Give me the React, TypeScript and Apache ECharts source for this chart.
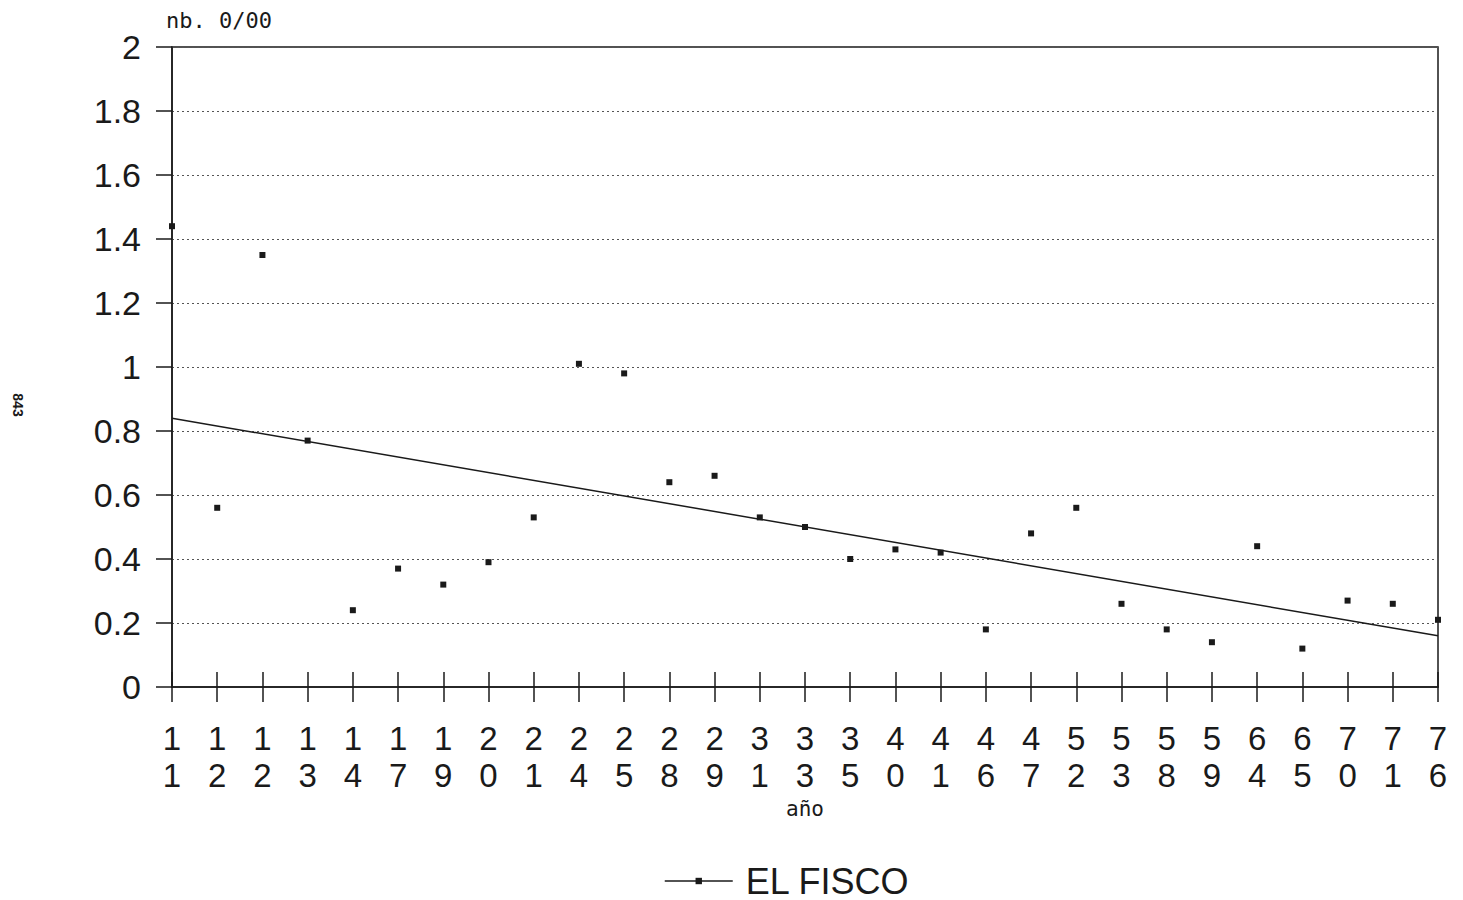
import React, { useEffect, useRef } from "react";
import * as echarts from "echarts";

const years = ["11", "12", "12", "13", "14", "17", "19", "20", "21", "24", "25", "28", "29", "31", "33", "35", "40", "41", "46", "47", "52", "53", "58", "59", "64", "65", "70", "71", "76"];
const fiscoValues = [1.44, 0.56, 1.35, 0.77, 0.24, 0.37, 0.32, 0.39, 0.53, 1.01, 0.98, 0.64, 0.66, 0.53, 0.5, 0.4, 0.43, 0.42, 0.18, 0.48, 0.56, 0.26, 0.18, 0.14, 0.44, 0.12, 0.27, 0.26, 0.21];
const trendStart = 0.84;
const trendEnd = 0.16;
const yTicks = [0, 0.2, 0.4, 0.6, 0.8, 1, 1.2, 1.4, 1.6, 1.8, 2];

const FONT = "Liberation Sans";
const INK = "#1a1a1a";

export default function App() {
  const ref = useRef<HTMLDivElement>(null);
  useEffect(() => {
    if (!ref.current) return;
    const chart = echarts.init(ref.current, null, { renderer: "svg" });
    chart.setOption({
      animation: false,
      backgroundColor: "#ffffff",
      grid: {
        left: 172,
        right: 25,
        top: 47,
        bottom: 213,
        show: true,
        borderColor: INK,
        borderWidth: 1.5,
      },
      legend: {
        data: ["EL FISCO"],
        left: 664,
        top: 863,
        padding: 0,
        itemWidth: 68,
        itemHeight: 8,
        itemGap: 10,
        lineStyle: { width: 1.5, color: INK, opacity: 1 },
        textStyle: { fontFamily: FONT, fontSize: 36, lineHeight: 36, color: INK, padding: [0, 0, 0, 8] },
      },
      xAxis: [
        {
          type: "category",
          data: years,
          boundaryGap: false,
          axisLine: { show: true, lineStyle: { color: INK, width: 1.5 } },
          axisTick: { show: true, length: 15, lineStyle: { color: INK, width: 1.5 } },
          axisLabel: {
            margin: 33,
            fontFamily: FONT,
            fontSize: 33,
            lineHeight: 37,
            color: INK,
            interval: 0,
            formatter: (_v: string, i: number) => years[i].split("").join("\n"),
          },
          splitLine: { show: false },
          name: "año",
          nameLocation: "middle",
          nameGap: 110,
          nameTextStyle: { fontFamily: "DejaVu Sans Mono", fontSize: 21, color: INK },
        },
        {
          type: "category",
          data: years,
          boundaryGap: false,
          position: "bottom",
          axisLine: { show: false },
          axisTick: { show: true, inside: true, length: 15, lineStyle: { color: INK, width: 1.5 } },
          axisLabel: { show: false },
          splitLine: { show: false },
        },
      ],
      yAxis: {
        type: "value",
        min: 0,
        max: 2,
        interval: 0.2,
        axisLine: { show: true, lineStyle: { color: INK, width: 1.5 } },
        axisTick: { show: true, length: 16, lineStyle: { color: INK, width: 1.5 } },
        axisLabel: {
          margin: 31,
          fontFamily: FONT,
          fontSize: 34,
          color: INK,
          formatter: (v: number) => (yTicks.some((t) => Math.abs(t - v) < 1e-9) ? String(Math.round(v * 10) / 10) : ""),
        },
        splitLine: { show: true, lineStyle: { color: "#555", type: [2, 3], width: 1 } },
        name: "nb. 0/00",
        nameLocation: "end",
        nameGap: 16,
        nameTextStyle: { fontFamily: "DejaVu Sans Mono", fontSize: 22, color: INK, align: "left", padding: [0, 0, 0, -6] },
      },
      series: [
        {
          name: "EL FISCO",
          type: "line",
          data: fiscoValues,
          symbol: "rect",
          symbolSize: 6,
          showSymbol: true,
          itemStyle: { color: INK },
          lineStyle: { width: 0, opacity: 0 },
          z: 5,
        },
        {
          name: "trend",
          type: "line",
          data: [
            [0, trendStart],
            [years.length - 1, trendEnd],
          ],
          symbol: "none",
          lineStyle: { color: INK, width: 1.5 },
          itemStyle: { color: INK },
          z: 4,
        },
      ],
      graphic: [
        {
          type: "text",
          x: 18,
          y: 405,
          rotation: -Math.PI / 2,
          style: {
            text: "843",
            fontFamily: FONT,
            fontWeight: "bold",
            fontSize: 14,
            fill: INK,
            align: "center",
            verticalAlign: "middle",
          },
        },
      ],
    });
    return () => chart.dispose();
  }, []);
  return (
    <div
      ref={ref}
      style={{ position: "fixed", left: 0, top: 0, width: 1463, height: 900, background: "#fff" }}
    />
  );
}
